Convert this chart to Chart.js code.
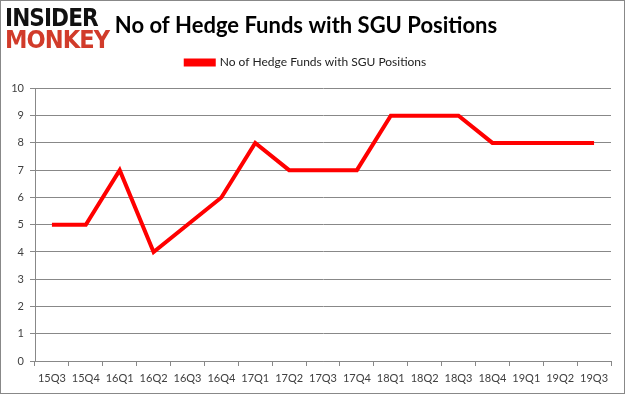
<!DOCTYPE html>
<html>
<head>
<meta charset="utf-8">
<script src="https://cdn.jsdelivr.net/npm/chart.js@4"></script>
<style>
  body { margin: 0; background: #fff; }
  #wrap { position: relative; width: 625px; height: 394px; box-sizing: border-box; border: 1px solid #888; }
  canvas { display: block; }
  .logo { position: absolute; left: 4px; font-family: "DejaVu Sans", sans-serif; font-weight: bold; font-size: 24px; line-height: 22px; letter-spacing: -1px; }
  #logo1 { top: 6px; color: #111; transform: scaleX(0.9); transform-origin: left; }
  #logo2 { top: 28px; color: #d13b2a; transform: scaleX(0.94); transform-origin: left; }
</style>
</head>
<body>
<div id="wrap">
  <canvas id="chart" width="623" height="392"></canvas>
  <div class="logo" id="logo1">INSIDER</div>
  <div class="logo" id="logo2">MONKEY</div>
</div>
<script>
const quarters = ['15Q3', '15Q4', '16Q1', '16Q2', '16Q3', '16Q4', '17Q1', '17Q2', '17Q3',
  '17Q4', '18Q1', '18Q2', '18Q3', '18Q4', '19Q1', '19Q2', '19Q3'];
const hedgeFunds = [5, 5, 7, 4, 5, 6, 8, 7, 7, 7, 9, 9, 9, 8, 8, 8, 8];
const seriesName = 'No of Hedge Funds with SGU Positions';
const chartTitle = 'No of Hedge Funds with SGU Positions';

const font = 'Lato, "Open Sans", sans-serif';

// extra space under the legend
const legendGap = {
  id: 'legendGap',
  beforeInit(chart) {
    const fit = chart.legend.fit;
    chart.legend.fit = function () {
      fit.bind(chart.legend)();
      this.height += 10;
    };
  }
};

new Chart(document.getElementById('chart'), {
  type: 'line',
  data: {
    labels: quarters,
    datasets: [{
      label: seriesName,
      data: hedgeFunds,
      borderColor: '#ff0000',
      backgroundColor: '#ff0000',
      borderWidth: 4,
      pointRadius: 0,
      tension: 0
    }]
  },
  options: {
    responsive: false,
    animation: false,
    layout: { padding: { left: 0, right: 13, top: 0, bottom: 0 } },
    scales: {
      x: {
        offset: true,
        afterFit: (s) => { s.height = 32; },
        grid: { offset: true, drawOnChartArea: false, drawTicks: true, tickLength: 5, color: '#888' },
        border: { color: '#888' },
        ticks: { color: '#404040', font: { family: font, size: 11 }, padding: 6, maxRotation: 0, autoSkip: false }
      },
      y: {
        min: 0,
        max: 10,
        afterFit: (s) => { s.width = 34; },
        grid: { color: '#888', tickLength: 5 },
        border: { color: '#888' },
        ticks: { stepSize: 1, color: '#404040', font: { family: font, size: 11 }, padding: 6 }
      }
    },
    plugins: {
      title: {
        display: true,
        text: chartTitle,
        color: '#000',
        font: { family: font, size: 22, weight: 'bold' },
        padding: { top: 12, bottom: 2 }
      },
      legend: {
        labels: {
          color: '#222',
          font: { family: font, size: 12 },
          boxWidth: 28,
          boxHeight: 4,
          padding: 15
        }
      },
      tooltip: { enabled: false }
    }
  },
  plugins: [legendGap]
});
</script>
</body>
</html>
